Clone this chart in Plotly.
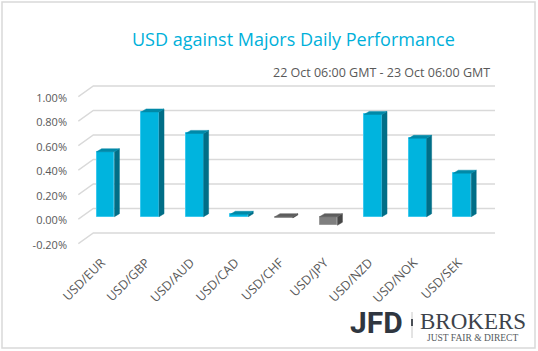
import plotly.graph_objects as go

# ---------------- data ----------------
categories = ["USD/EUR", "USD/GBP", "USD/AUD", "USD/CAD", "USD/CHF",
              "USD/JPY", "USD/NZD", "USD/NOK", "USD/SEK"]
values_pct = [0.53, 0.855, 0.68, 0.02, -0.01, -0.07, 0.835, 0.64, 0.355]
tick_vals_pct = [-0.20, 0.00, 0.20, 0.40, 0.60, 0.80, 1.00]
tick_text = ["-0.20%", "0.00%", "0.20%", "0.40%", "0.60%", "0.80%", "1.00%"]
title_text = "USD against Majors Daily Performance"
subtitle_text = "22 Oct 06:00 GMT - 23 Oct 06:00 GMT"

values = [v / 100 for v in values_pct]
tick_vals = [v / 100 for v in tick_vals_pct]

# ---------------- geometry ----------------
W, H = 538, 351
L, R, T, B = 78, 43, 80, 101
PW, PH = W - L - R, H - T - B

X0_PX, KX = 105.5, 44.6        # pixel of first category, px per category
KY = 12250.0                   # px per unit (fraction) of value
ZERO_PX = 216.7                # pixel of value 0 on bar front plane
LABEL_ZERO_PX = 220.5          # pixel of 0 label
XLABEL_SHIFT_PX = 4.0          # x labels sit slightly left of bar centres

SX = XLABEL_SHIFT_PX / KX               # bar frame -> label frame (x)
SY = (LABEL_ZERO_PX - ZERO_PX) / KY     # bar frame -> label frame (y)

xb_range = [(L - X0_PX) / KX, (W - R - X0_PX) / KX]
yb_range = [-(T + PH - ZERO_PX) / KY, (ZERO_PX - T) / KY]
xl_range = [r + SX for r in xb_range]
yl_range = [r + SY for r in yb_range]

BAR_W = 0.4
DX, DY = 5.0 / KX, 3.0 / KY            # bar depth
BACK_DY = 8.2 / KY                      # back wall offset (bar frame)
FRONT_DY = -2.5 / KY                    # front floor offset (bar frame)
X_FRONT = (78.3 - X0_PX) / KX
X_BACK = (93.3 - X0_PX) / KX


def px_to_paper_x(px):
    return (px - L) / PW


def px_to_paper_y(py):
    return (T + PH - py) / PH


fig = go.Figure()

# gridlines (floor diagonal + back wall) on the label axes, underneath the bars
gx, gy = [], []
for v in tick_vals:
    gx += [X_FRONT + SX, X_BACK + SX, xb_range[1] + SX, None]
    gy += [v + FRONT_DY + SY, v + BACK_DY + SY, v + BACK_DY + SY, None]
fig.add_trace(go.Scatter(x=gx, y=gy, mode="lines", xaxis="x", yaxis="y",
                         line=dict(color="#D9D9D9", width=1.5),
                         hoverinfo="skip", showlegend=False, cliponaxis=False))

pos_cols = dict(front="#00B4DE", line="#3CC8EE", top="#0089A8", side="#006E87")
neg_cols = dict(front="#7F7F7F", line="#9A9A9A", top="#5E5E5E", side="#474747")

xs = list(range(len(categories)))
fig.add_trace(go.Bar(
    x=xs, y=values, width=BAR_W, xaxis="x2", yaxis="y2",
    marker=dict(color=[pos_cols["front"] if v >= 0 else neg_cols["front"] for v in values],
                line=dict(color=[pos_cols["line"] if v >= 0 else neg_cols["line"] for v in values],
                          width=1)),
    hoverinfo="skip", showlegend=False))

for x, v in zip(xs, values):
    cols = pos_cols if v >= 0 else neg_cols
    hi, lo = max(v, 0), min(v, 0)
    xl, xr = x - BAR_W / 2, x + BAR_W / 2
    # side face
    fig.add_trace(go.Scatter(
        x=[xr, xr, xr + DX, xr + DX, xr], y=[lo, hi, hi + DY, lo + DY, lo],
        mode="lines", fill="toself", fillcolor=cols["side"], xaxis="x2", yaxis="y2",
        line=dict(color=cols["side"], width=0.5), hoverinfo="skip", showlegend=False))
    # top face
    fig.add_trace(go.Scatter(
        x=[xl, xr, xr + DX, xl + DX, xl], y=[hi, hi, hi + DY, hi + DY, hi],
        mode="lines", fill="toself", fillcolor=cols["top"], xaxis="x2", yaxis="y2",
        line=dict(color=cols["top"], width=0.5), hoverinfo="skip", showlegend=False))

label_font = dict(family="Open Sans", size=11, color="#595959")
xlabel_font = dict(family="Open Sans", size=12.5, color="#595959")

fig.update_layout(
    width=W, height=H,
    margin=dict(l=L, r=R, t=T, b=B, pad=0),
    paper_bgcolor="white", plot_bgcolor="white",
    bargap=0,
    xaxis=dict(range=xl_range, tickvals=xs, ticktext=categories, tickangle=-45,
               showgrid=False, zeroline=False, showline=False, ticks="",
               tickfont=xlabel_font, ticklabelstandoff=2, fixedrange=True),
    yaxis=dict(range=yl_range, tickvals=tick_vals, ticktext=tick_text,
               showgrid=False, zeroline=False, showline=False, ticks="",
               tickfont=label_font, ticklabelstandoff=10, fixedrange=True),
    xaxis2=dict(range=xb_range, overlaying="x", anchor="y2", visible=False, fixedrange=True),
    yaxis2=dict(range=yb_range, overlaying="y", anchor="x2", visible=False, fixedrange=True),
    showlegend=False,
)

annotations = [
    dict(text=title_text, x=px_to_paper_x(293), y=px_to_paper_y(39),
         xanchor="center", yanchor="middle",
         font=dict(family="Open Sans", size=18, color="#00B0DA")),
    dict(text=subtitle_text, x=px_to_paper_x(492), y=px_to_paper_y(72.5),
         xanchor="right", yanchor="middle",
         font=dict(family="Open Sans", size=12.5, color="#595959")),
    dict(text="<b>JFD</b>", x=px_to_paper_x(376.5), y=px_to_paper_y(322.5),
         xanchor="center", yanchor="middle",
         font=dict(family="Roboto", size=30, color="#2F3640")),
    dict(text="BROKERS", x=px_to_paper_x(472.5), y=px_to_paper_y(321.5),
         xanchor="center", yanchor="middle",
         font=dict(family="Liberation Serif", size=23, color="#3D434B")),
    dict(text="JUST FAIR &amp; DIRECT", x=px_to_paper_x(472.5), y=px_to_paper_y(337.5),
         xanchor="center", yanchor="middle",
         font=dict(family="Liberation Serif", size=9.5, color="#555A60")),
]
for a in annotations:
    a.update(xref="paper", yref="paper", showarrow=False)

shapes = [
    dict(type="rect", xref="paper", yref="paper",
         x0=px_to_paper_x(2), x1=px_to_paper_x(535),
         y0=px_to_paper_y(2), y1=px_to_paper_y(348),
         line=dict(color="#D9D9D9", width=1.5), layer="below"),
    dict(type="line", xref="paper", yref="paper",
         x0=px_to_paper_x(412), x1=px_to_paper_x(412),
         y0=px_to_paper_y(312), y1=px_to_paper_y(338),
         line=dict(color="#C8C8C8", width=1), layer="below"),
    dict(type="line", xref="paper", yref="paper",
         x0=px_to_paper_x(412), x1=px_to_paper_x(412),
         y0=px_to_paper_y(319), y1=px_to_paper_y(326),
         line=dict(color="#4A4F56", width=2), layer="below"),
]

fig.update_layout(annotations=annotations, shapes=shapes)

fig.write_html("out.html")
